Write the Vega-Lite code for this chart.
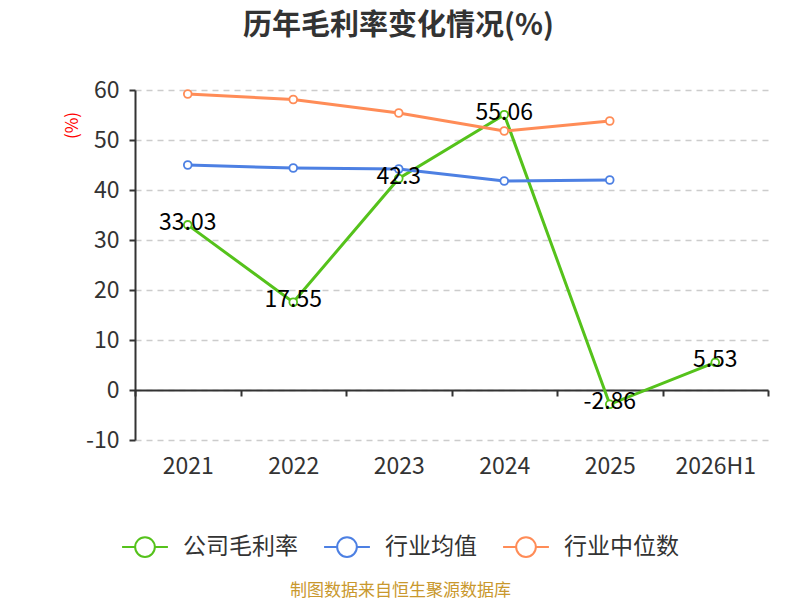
{
  "$schema": "https://vega.github.io/schema/vega-lite/v6.json",
  "autosize": "none",
  "width": 633,
  "height": 350,
  "padding": {"left": 135, "top": 90, "right": 32, "bottom": 160},
  "background": "white",
  "title": {
    "text": "历年毛利率变化情况(%)",
    "font": "Noto Sans CJK SC",
    "fontSize": 29,
    "fontWeight": "bold",
    "color": "#333333",
    "anchor": "middle",
    "dx": -53,
    "offset": 38
  },
  "config": {
    "font": "Noto Sans CJK SC",
    "view": {"stroke": null}
  },
  "data": {
    "values": [
      {"year": "2021", "series": "公司毛利率", "value": 33.03, "label": "33.03"},
      {"year": "2022", "series": "公司毛利率", "value": 17.55, "label": "17.55"},
      {"year": "2023", "series": "公司毛利率", "value": 42.3, "label": "42.3"},
      {"year": "2024", "series": "公司毛利率", "value": 55.06, "label": "55.06"},
      {"year": "2025", "series": "公司毛利率", "value": -2.86, "label": "-2.86"},
      {"year": "2026H1", "series": "公司毛利率", "value": 5.53, "label": "5.53"},
      {"year": "2021", "series": "行业均值", "value": 45.0},
      {"year": "2022", "series": "行业均值", "value": 44.4},
      {"year": "2023", "series": "行业均值", "value": 44.2},
      {"year": "2024", "series": "行业均值", "value": 41.8},
      {"year": "2025", "series": "行业均值", "value": 42.0},
      {"year": "2021", "series": "行业中位数", "value": 59.2},
      {"year": "2022", "series": "行业中位数", "value": 58.1},
      {"year": "2023", "series": "行业中位数", "value": 55.4},
      {"year": "2024", "series": "行业中位数", "value": 51.8},
      {"year": "2025", "series": "行业中位数", "value": 53.8}
    ]
  },
  "encoding": {
    "x": {
      "field": "year",
      "type": "nominal",
      "sort": ["2021", "2022", "2023", "2024", "2025", "2026H1"],
      "scale": {"domain": ["2021", "2022", "2023", "2024", "2025", "2026H1"], "paddingInner": 0, "paddingOuter": 0},
      "axis": {
        "title": "制图数据来自恒生聚源数据库",
        "titleColor": "#c9982d",
        "titleFontSize": 17,
        "titleFontWeight": "normal",
        "titleX": 265,
        "titleY": 200,
        "titleAlign": "center",
        "titleBaseline": "middle",
        "offset": -50,
        "labelAngle": 0,
        "labelFontSize": 23,
        "labelColor": "#333333",
        "labelPadding": 59,
        "domainColor": "#333333",
        "domainWidth": 2,
        "tickColor": "#333333",
        "tickWidth": 2,
        "tickSize": 6,
        "tickBand": "extent",
        "grid": false
      }
    },
    "y": {
      "field": "value",
      "type": "quantitative",
      "scale": {"domain": [-10, 60], "nice": false, "zero": false},
      "axis": {
        "values": [-10, 0, 10, 20, 30, 40, 50, 60],
        "labelExpr": "replace(datum.label, '−', '-')",
        "title": "(%)",
        "titleColor": "#ff0000",
        "titleFontSize": 17,
        "titleFontWeight": "normal",
        "titleX": -63,
        "titleY": 35,
        "titleAlign": "center",
        "titleBaseline": "middle",
        "titleAngle": -90,
        "labelFontSize": 23,
        "labelColor": "#333333",
        "labelPadding": 10,
        "domainColor": "#333333",
        "domainWidth": 2,
        "tickColor": "#333333",
        "tickWidth": 2,
        "tickSize": 6,
        "grid": true,
        "gridColor": "#cccccc",
        "gridDash": [6, 5],
        "gridWidth": 1.5
      }
    }
  },
  "layer": [
    {
      "mark": {
        "type": "line",
        "strokeWidth": 3,
        "point": {"filled": false, "fill": "white", "size": 60, "strokeWidth": 1.8}
      },
      "encoding": {
        "color": {
          "field": "series",
          "type": "nominal",
          "sort": ["公司毛利率", "行业均值", "行业中位数"],
          "scale": {
            "domain": ["公司毛利率", "行业均值", "行业中位数"],
            "range": ["#55c21b", "#4d80e3", "#ff8c57"]
          },
          "legend": {
            "title": null,
            "orient": "none",
            "direction": "horizontal",
            "legendX": -14,
            "legendY": 433,
            "symbolType": "M-1,0L-0.43,0M0.43,0L1,0M0.43,0A0.43,0.43,0,1,1,-0.43,0A0.43,0.43,0,1,1,0.43,0Z",
            "symbolSize": 2100,
            "symbolStrokeWidth": 2,
            "labelFontSize": 23,
            "labelColor": "#333333",
            "labelOffset": 14,
            "columnPadding": 22,
            "encode": {"symbols": {"update": {"fill": {"value": "white"}, "strokeWidth": {"value": 2}}}}
          }
        },
        "order": {"field": "year"}
      }
    },
    {
      "transform": [{"filter": "datum.series === '公司毛利率'"}],
      "mark": {"type": "text", "fontSize": 23, "color": "#000000", "align": "center", "baseline": "middle", "dy": -2},
      "encoding": {"text": {"field": "label", "type": "nominal"}}
    }
  ]
}
